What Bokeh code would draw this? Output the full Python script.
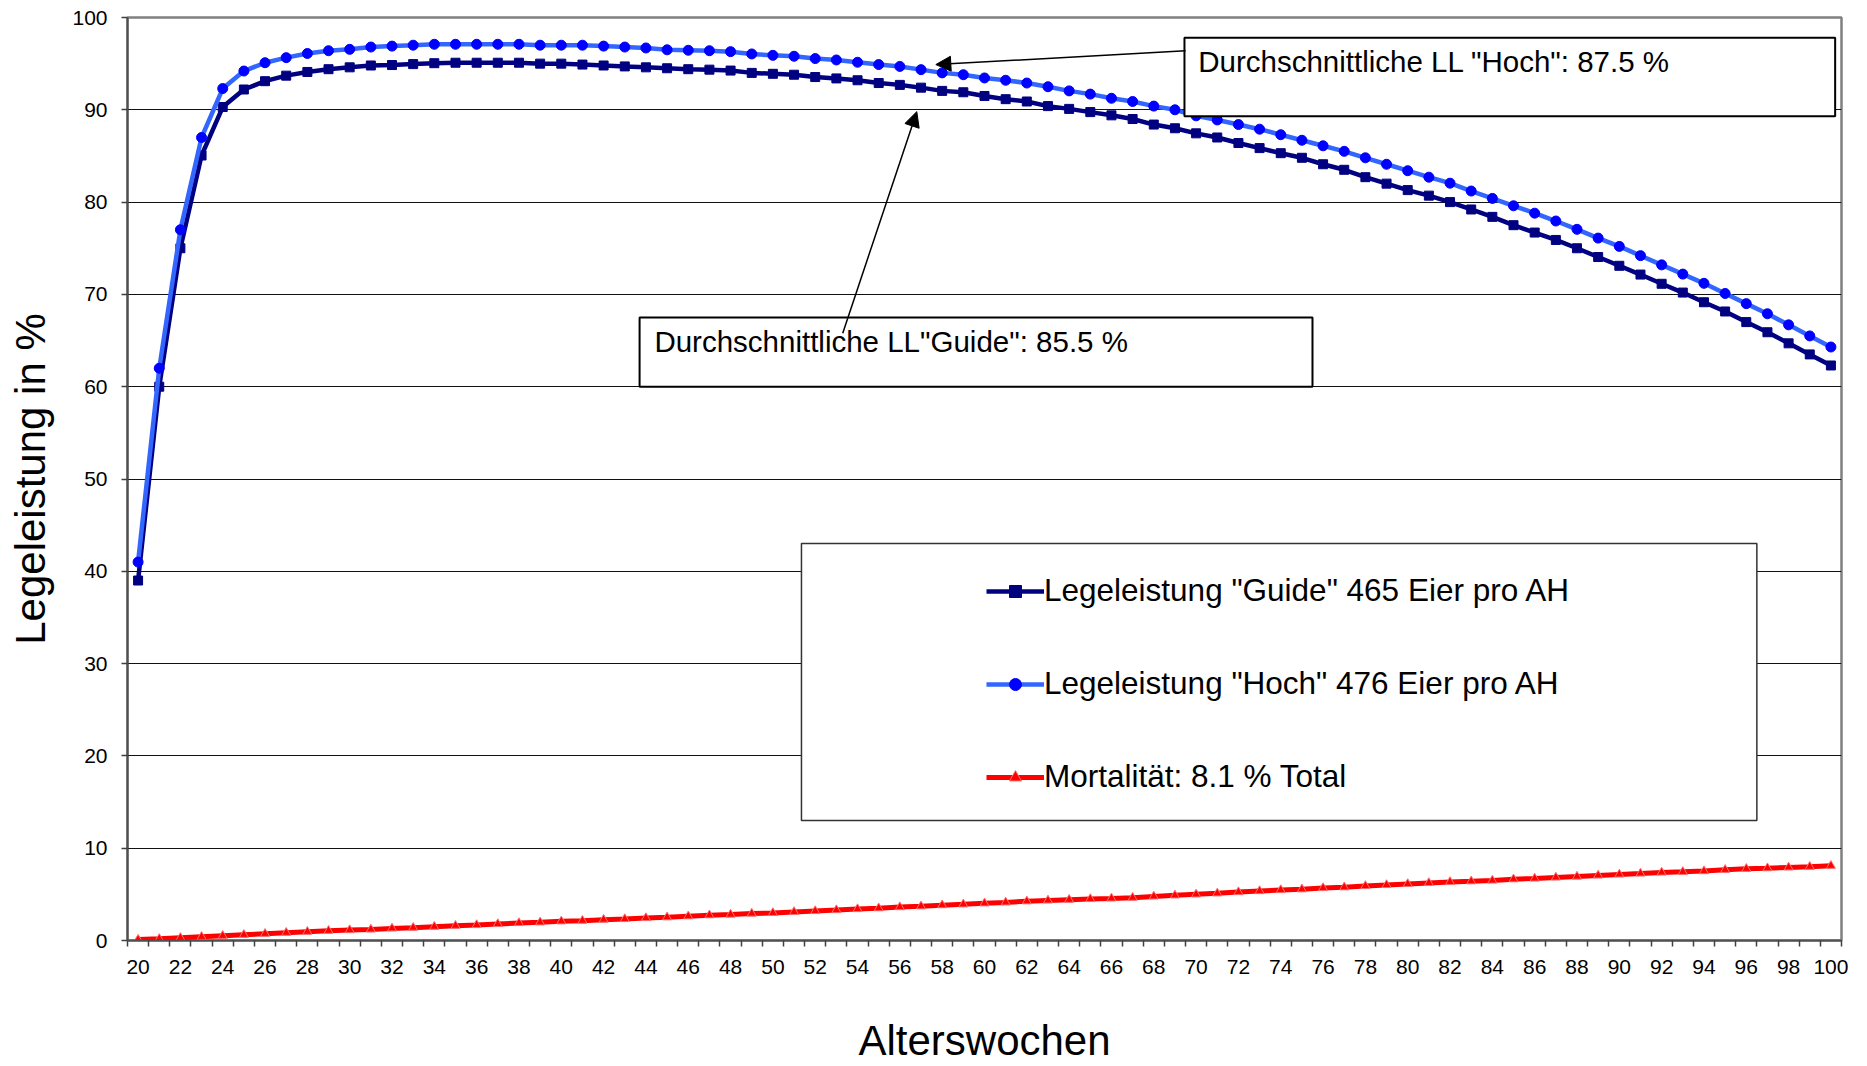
from bokeh.plotting import figure
from bokeh.models import (Range1d, FixedTicker, Legend, LegendItem, BoxAnnotation,
                          Label, Arrow, NormalHead)
from bokeh.embed import file_html
from bokeh.resources import INLINE

# ---------------- data ----------------
weeks = list(range(20, 101))

guide = [39.0, 60.0, 75.0, 85.05, 90.3, 92.2, 93.1, 93.7, 94.1, 94.4,
         94.6, 94.8, 94.85, 94.95, 95.05, 95.1, 95.1, 95.1, 95.1, 95.0,
         95.0, 94.9, 94.8, 94.7, 94.6, 94.5, 94.4, 94.35, 94.25, 94.0,
         93.9, 93.8, 93.55, 93.4, 93.2, 92.9, 92.7, 92.4, 92.05, 91.9,
         91.5, 91.15, 90.9, 90.4, 90.1, 89.75, 89.4, 89.0, 88.4, 88.0,
         87.45, 87.0, 86.4, 85.85, 85.3, 84.8, 84.1, 83.5, 82.7, 82.0,
         81.3, 80.7, 80.0, 79.2, 78.4, 77.5, 76.7, 75.9, 75.0, 74.05,
         73.1, 72.15, 71.15, 70.2, 69.15, 68.15, 67.0, 65.9, 64.7, 63.5,
         62.3]

hoch = [41.0, 62.0, 77.0, 87.0, 92.3, 94.2, 95.1, 95.65, 96.1, 96.4,
        96.55, 96.8, 96.9, 97.0, 97.1, 97.1, 97.1, 97.1, 97.1, 97.0,
        97.0, 97.0, 96.9, 96.8, 96.7, 96.5, 96.45, 96.4, 96.3, 96.05,
        95.9, 95.8, 95.55, 95.4, 95.15, 94.9, 94.7, 94.35, 94.0, 93.8,
        93.45, 93.2, 92.9, 92.5, 92.05, 91.7, 91.25, 90.9, 90.4, 90.0,
        89.35, 88.9, 88.4, 87.9, 87.3, 86.7, 86.1, 85.5, 84.8, 84.1,
        83.4, 82.7, 82.05, 81.2, 80.4, 79.6, 78.8, 77.95, 77.05, 76.1,
        75.2, 74.2, 73.2, 72.2, 71.2, 70.1, 69.0, 67.9, 66.7, 65.5,
        64.3]

mortality = [0.1, 0.18, 0.29, 0.4, 0.51, 0.62, 0.73, 0.84, 0.95, 1.06,
             1.13, 1.2, 1.31, 1.39, 1.5, 1.6, 1.68, 1.79, 1.9, 1.97,
             2.08, 2.15, 2.26, 2.33, 2.44, 2.52, 2.63, 2.74, 2.81, 2.92,
             2.99, 3.1, 3.2, 3.3, 3.41, 3.5, 3.62, 3.71, 3.83, 3.92,
             4.03, 4.13, 4.25, 4.34, 4.42, 4.5, 4.56, 4.64, 4.78, 4.89,
             5.0, 5.11, 5.25, 5.36, 5.47, 5.55, 5.69, 5.77, 5.91, 6.02,
             6.13, 6.24, 6.35, 6.42, 6.5, 6.64, 6.72, 6.83, 6.93, 7.05,
             7.16, 7.26, 7.37, 7.44, 7.52, 7.66, 7.77, 7.84, 7.92, 7.99,
             8.1]

series_labels = ['Legeleistung "Guide" 465 Eier pro AH',
                 'Legeleistung "Hoch" 476 Eier pro AH',
                 'Mortalität: 8.1 % Total']
note_hoch = 'Durchschnittliche LL "Hoch":  87.5 %'
note_guide = 'Durchschnittliche LL"Guide": 85.5 %'
x_title = "Alterswochen"
y_title = "Legeleistung in %"
x_tick_values = list(range(20, 101, 2))
y_tick_values = list(range(0, 101, 10))

FONT = "Liberation Sans"

# ---------------- figure ----------------
p = figure(width=1867, height=1066, output_backend="svg", toolbar_location=None,
           title=None, x_range=Range1d(19.5, 100.5), y_range=Range1d(0, 100),
           min_border_left=127, min_border_right=26, min_border_top=17,
           min_border_bottom=124)
p.background_fill_color = "white"
p.border_fill_color = "white"
p.outline_line_color = "#808080"
p.outline_line_width = 2.5

p.xgrid.grid_line_color = None
p.ygrid.grid_line_color = "#111111"
p.ygrid.grid_line_width = 1.2
p.ygrid.ticker = FixedTicker(ticks=y_tick_values)

# x axis
xa = p.xaxis[0]
xa.ticker = FixedTicker(ticks=x_tick_values,
                        minor_ticks=[w - 0.5 for w in range(20, 102)])
xa.major_tick_line_color = None
xa.major_tick_out = 6
xa.major_tick_in = 0
xa.minor_tick_line_color = "#404040"
xa.minor_tick_line_width = 1.5
xa.minor_tick_out = 6
xa.minor_tick_in = 0
xa.axis_line_color = "#505050"
xa.axis_line_width = 2
xa.major_label_text_font = FONT
xa.major_label_text_font_size = "21px"
xa.major_label_text_color = "black"
xa.major_label_standoff = 13
xa.axis_label = x_title
xa.axis_label_text_font = FONT
xa.axis_label_text_font_size = "42px"
xa.axis_label_text_font_style = "normal"
xa.axis_label_text_color = "black"
xa.axis_label_standoff = 40

# y axis
ya = p.yaxis[0]
ya.ticker = FixedTicker(ticks=y_tick_values)
ya.minor_tick_line_color = None
ya.major_tick_out = 6
ya.major_tick_in = 0
ya.major_tick_line_color = "#404040"
ya.major_tick_line_width = 1.5
ya.axis_line_color = "#505050"
ya.axis_line_width = 2
ya.major_label_text_font = FONT
ya.major_label_text_font_size = "21px"
ya.major_label_text_color = "black"
ya.major_label_standoff = 14
ya.axis_label = y_title
ya.axis_label_text_font = FONT
ya.axis_label_text_font_size = "42px"
ya.axis_label_text_font_style = "normal"
ya.axis_label_text_color = "black"
ya.axis_label_standoff = 15

# ---------------- series ----------------
g_line = p.line(weeks, guide, line_color="#000080", line_width=4.5)
g_pts = p.scatter(weeks, guide, marker="square", size=9,
                  fill_color="#000080", line_color="#000080")
h_line = p.line(weeks, hoch, line_color="#3366FF", line_width=4.5)
h_pts = p.scatter(weeks, hoch, marker="circle", size=10,
                  fill_color="#0000FF", line_color="#0000FF")
m_line = p.line(weeks, mortality, line_color="#FF0000", line_width=5)
m_pts = p.scatter(weeks, mortality, marker="triangle", size=9,
                  fill_color="#FF0000", line_color="#FF7070", line_width=1)

# ---------------- annotation boxes ----------------
legend_box = BoxAnnotation(left=51.35, right=96.5, top=43.0, bottom=13.0,
                           fill_color="white", fill_alpha=1.0,
                           line_color="#333333", line_width=1.5, line_alpha=1.0)
p.add_layout(legend_box)

hoch_box = BoxAnnotation(left=69.45, right=100.2, top=97.8, bottom=89.3,
                         fill_color="white", fill_alpha=1.0,
                         line_color="black", line_width=2, line_alpha=1.0)
guide_box = BoxAnnotation(left=43.7, right=75.5, top=67.5, bottom=60.0,
                          fill_color="white", fill_alpha=1.0,
                          line_color="black", line_width=2, line_alpha=1.0)
p.add_layout(hoch_box)
p.add_layout(guide_box)

p.add_layout(Label(x=70.1, y=95.2, text=note_hoch, text_baseline="middle",
                   text_font=FONT, text_font_size="29.5px", text_color="black"))
p.add_layout(Label(x=44.4, y=64.9, text=note_guide, text_baseline="middle",
                   text_font=FONT, text_font_size="29.5px", text_color="black"))

p.add_layout(Arrow(end=NormalHead(size=15, fill_color="black", line_color="black"),
                   x_start=69.5, y_start=96.4, x_end=57.7, y_end=94.9,
                   line_color="black", line_width=1.5))
p.add_layout(Arrow(end=NormalHead(size=15, fill_color="black", line_color="black"),
                   x_start=53.3, y_start=65.8, x_end=56.8, y_end=89.8,
                   line_color="black", line_width=1.5))

# ---------------- legend ----------------
legend = Legend(items=[LegendItem(label=series_labels[0], renderers=[g_line, g_pts]),
                       LegendItem(label=series_labels[1], renderers=[h_line, h_pts]),
                       LegendItem(label=series_labels[2], renderers=[m_line, m_pts])],
                location=(859, 145), orientation="vertical",
                border_line_alpha=0, background_fill_alpha=0,
                label_text_font=FONT, label_text_font_size="31.5px",
                label_text_color="black",
                glyph_width=58, glyph_height=30, label_height=30,
                label_standoff=0, spacing=56, padding=0, margin=0)
p.add_layout(legend)

open("out.html", "w").write(file_html(p, INLINE))
